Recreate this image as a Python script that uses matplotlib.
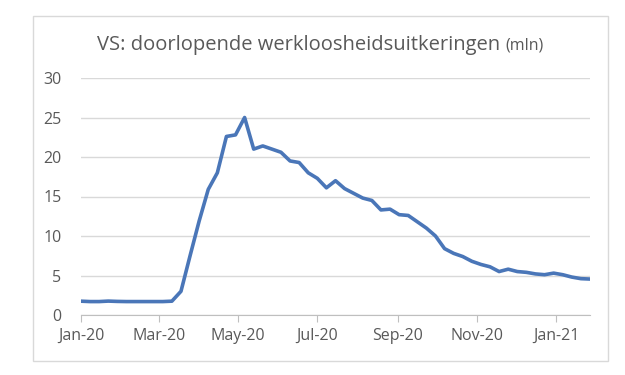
import matplotlib
matplotlib.use("Agg")
import matplotlib.pyplot as plt
import matplotlib.dates as mdates
from matplotlib.patches import Rectangle
import pandas as pd

# weekly continuing claims, millions (week ending Saturday)
dates = pd.date_range("2020-01-04", periods=57, freq="7D")
claims = [1.75, 1.70, 1.70, 1.76, 1.72, 1.70, 1.70, 1.70, 1.70, 1.70,
          1.75, 3.0, 7.5, 11.9, 15.9, 18.0, 22.6, 22.8, 25.0, 21.0,
          21.4, 21.0, 20.6, 19.5, 19.3, 18.0, 17.3, 16.1, 17.0, 16.0,
          15.4, 14.8, 14.5, 13.3, 13.4, 12.7, 12.6, 11.8, 11.0, 10.0,
          8.4, 7.8, 7.4, 6.8, 6.4, 6.1, 5.5, 5.8, 5.5, 5.4,
          5.2, 5.1, 5.3, 5.1, 4.8, 4.6, 4.55]
yticks = [0, 5, 10, 15, 20, 25, 30]
xticks = pd.to_datetime(["2020-01-04", "2020-03-04", "2020-05-04", "2020-07-04",
                         "2020-09-04", "2020-11-04", "2021-01-04"])

plt.rcParams['font.family'] = ['Open Sans', 'DejaVu Sans']
grey = '#595959'

fig = plt.figure(figsize=(6.25, 3.75), dpi=100)
fig.patches.append(Rectangle((33/625, 1-361/375), 575/625, 345/375,
                             transform=fig.transFigure, fill=False,
                             edgecolor='#d9d9d9', linewidth=1))
ax = fig.add_axes([81/625, 1-315/375, 509/625, 237/375])

ax.plot(dates, claims, color='#4a76b8', linewidth=2.6, solid_joinstyle='round')

ax.set_ylim(0, 30)
ax.set_yticks(yticks)
ax.set_xlim(dates[0], dates[-1])
ax.set_xticks(xticks)
ax.xaxis.set_major_formatter(mdates.DateFormatter('%b-%y'))
ax.grid(axis='y', color='#d9d9d9', linewidth=1)
ax.set_axisbelow(True)
for s in ['top', 'right', 'left']:
    ax.spines[s].set_visible(False)
ax.spines['bottom'].set_color('#bfbfbf')
ax.tick_params(axis='y', length=0, pad=14, labelsize=11.5, labelcolor=grey)
ax.tick_params(axis='x', length=5, color='#bfbfbf', pad=4, labelsize=11.5, labelcolor=grey)

t = fig.text(97/625, 1-45/375, 'VS: doorlopende werkloosheidsuitkeringen', fontsize=14.5,
             color=grey, va='center', ha='left')
fig.canvas.draw()
bb = t.get_window_extent().transformed(fig.transFigure.inverted())
fig.text(bb.x1 + 5/625, 1-46/375, '(mln)', fontsize=11.5, color=grey, va='center', ha='left')

fig.savefig('out.png', dpi=100)
